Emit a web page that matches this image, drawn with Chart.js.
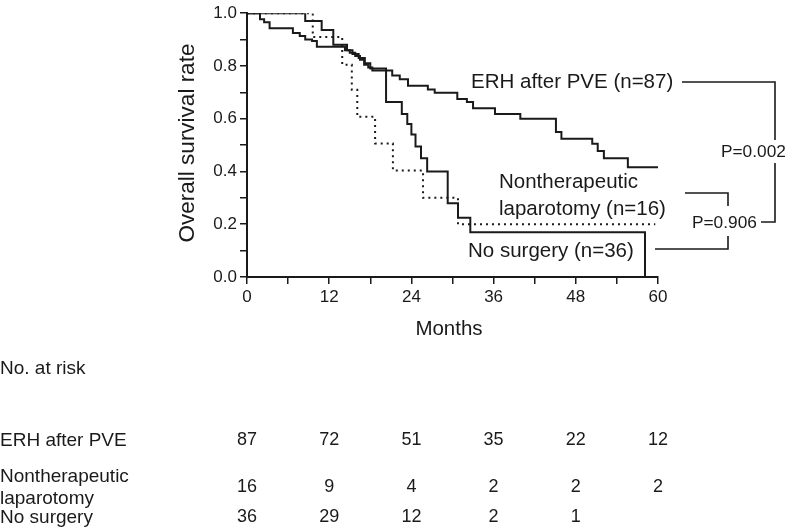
<!DOCTYPE html>
<html>
<head>
<meta charset="utf-8">
<script src="https://cdn.jsdelivr.net/npm/chart.js@4.4.1/dist/chart.umd.min.js"></script>
<style>
  body { margin: 0; background: #fff; }
  #wrap { position: relative; width: 800px; height: 529px; font-family: "Liberation Sans", Arial, sans-serif; color: #1a1a1a; }
  #wrap canvas { position: absolute; left: 0; top: 0; }
  .t { position: absolute; white-space: nowrap; transform: translateY(-50%); line-height: 1; }
  .c { transform: translate(-50%, -50%); }
  svg { position: absolute; left: 0; top: 0; }
</style>
</head>
<body>
<div id="wrap">
  <canvas id="km" width="800" height="529"></canvas>
  <svg width="800" height="529" stroke="#1a1a1a" stroke-width="1.6" fill="none">
    <path d="M682 82 H775 V140 M775 163 V222 H761"/>
    <path d="M685 193 H728 V206 M728 236 V249 H655"/>
  </svg>
  <div class="t c" style="left:187px;top:143px;font-size:22.5px;transform:translate(-50%,-50%) rotate(-90deg)">Overall survival rate</div>
  <div class="t c" style="left:449px;top:328px;font-size:20.5px">Months</div>
  <div class="t" style="left:471px;top:81px;font-size:20.5px">ERH after PVE (n=87)</div>
  <div class="t" style="left:499px;top:181px;font-size:20.5px">Nontherapeutic</div>
  <div class="t" style="left:499px;top:208px;font-size:20.5px">laparotomy (n=16)</div>
  <div class="t" style="left:468px;top:250px;font-size:20.5px">No surgery (n=36)</div>
  <div class="t" style="left:692px;top:223px;font-size:17.3px">P=0.906</div>
  <div class="t" style="left:721px;top:152px;font-size:17.3px">P=0.002</div>
  <div class="t" style="left:0px;top:367px;font-size:19px">No. at risk</div>
  <div class="t" style="left:0px;top:439px;font-size:19px">ERH after PVE</div>
  <div class="t" style="left:0px;top:475px;font-size:19px">Nontherapeutic</div>
  <div class="t" style="left:0px;top:497px;font-size:19px">laparotomy</div>
  <div class="t" style="left:0px;top:516px;font-size:19px">No surgery</div>
  <div id="risk"></div>
</div>
<script>
// Kaplan-Meier steps: time of event (months) and survival after it
const erhTime = [0, 1.9, 2.5, 3.3, 6.7, 7.7, 8.5, 9.5, 10.2, 14.3, 15.0, 15.8, 16.5, 17.1, 17.7, 18.3, 21.2, 22.3,
                 23.5, 26.4, 27.4, 30.7, 32.1, 33.0, 36.2, 39.9, 45.1, 45.9, 50.4, 51.2, 52.1, 55.6, 60];
const erhSurv = [1, 0.977, 0.966, 0.943, 0.925, 0.914, 0.9, 0.895, 0.873, 0.86, 0.85, 0.838, 0.824, 0.805, 0.794, 0.783, 0.764, 0.75,
                 0.725, 0.711, 0.698, 0.675, 0.663, 0.64, 0.618, 0.6, 0.55, 0.524, 0.505, 0.478, 0.45, 0.416, 0.416];

const lapTime = [0, 9.6, 13.9, 15.3, 16.1, 18.7, 21.3, 25.7, 30.8, 59.6];
const lapSurv = [1, 0.91, 0.805, 0.71, 0.607, 0.506, 0.404, 0.30, 0.20, 0.20];

const noSurgTime = [0, 8.5, 10.9, 12.6, 14.6, 15.4, 16.3, 17.2, 18.0, 20.3, 22.6, 23.4, 24.0, 24.6, 25.4, 26.3, 29.3, 30.8, 32.6, 58.1];
const noSurgSurv = [1, 0.97, 0.936, 0.88, 0.86, 0.845, 0.83, 0.81, 0.79, 0.663, 0.618, 0.58, 0.54, 0.495, 0.45, 0.40, 0.28, 0.225, 0.17, 0];

// number at risk table
const riskTimes = [0, 12, 24, 36, 48, 60];
const riskERH = [87, 72, 51, 35, 22, 12];
const riskLap = [16, 9, 4, 2, 2, 2];
const riskNoSurg = [36, 29, 12, 2, 1];

const pts = (ts, ss) => ts.map((t, i) => ({x: t, y: ss[i]}));
const ink = '#1a1a1a';

const line = (data, dash) => ({
  data, borderColor: ink, borderWidth: 2, borderDash: dash || [], borderCapStyle: 'butt',
  pointRadius: 0, stepped: true, fill: false, tension: 0
});

const riskPlugin = {
  id: 'risk',
  afterRender(chart){
    const xs = chart.scales.x;
    const root = document.getElementById('risk');
    root.innerHTML = '';
    const rows = [[riskERH, 439], [riskLap, 486], [riskNoSurg, 516]];
    rows.forEach(([vals, y]) => {
      vals.forEach((v, i) => {
        const d = document.createElement('div');
        d.className = 't c';
        d.style.left = xs.getPixelForValue(riskTimes[i]) + 'px';
        d.style.top = y + 'px';
        d.style.fontSize = '18px';
        d.textContent = v;
        root.appendChild(d);
      });
    });
  }
};

new Chart(document.getElementById('km'), {
  type: 'line',
  data: {
    datasets: [
      line(pts(erhTime, erhSurv)),
      line(pts(noSurgTime, noSurgSurv)),
      line(pts(lapTime, lapSurv), [2, 4])
    ]
  },
  options: {
    responsive: false,
    animation: false,
    devicePixelRatio: 1,
    layout: { padding: { top: 10, right: 142, left: 0, bottom: 0 } },
    plugins: { legend: { display: false }, tooltip: { enabled: false } },
    scales: {
      x: {
        type: 'linear', min: 0, max: 60,
        afterFit: s => { s.height = 252; },
        border: { display: true, color: ink, width: 2 },
        grid: { display: true, drawOnChartArea: false, drawTicks: true, tickLength: 7, color: ink, lineWidth: 1.5 },
        ticks: { stepSize: 6, autoSkip: false, maxRotation: 0, padding: 3, color: ink,
                 font: { family: '"Liberation Sans", Arial', size: 17 },
                 callback: v => (v % 12 === 0 ? v : '') }
      },
      y: {
        type: 'linear', min: 0, max: 1,
        afterFit: s => { s.width = 247; },
        border: { display: true, color: ink, width: 2 },
        grid: { display: true, drawOnChartArea: false, drawTicks: true, tickLength: 7, color: ink, lineWidth: 1.5 },
        ticks: { stepSize: 0.1, autoSkip: false, padding: 3, color: ink,
                 font: { family: '"Liberation Sans", Arial', size: 17 },
                 callback: v => (Math.round(v * 10) % 2 === 0 ? v.toFixed(1) : '') }
      }
    }
  },
  plugins: [riskPlugin]
});
</script>
</body>
</html>
